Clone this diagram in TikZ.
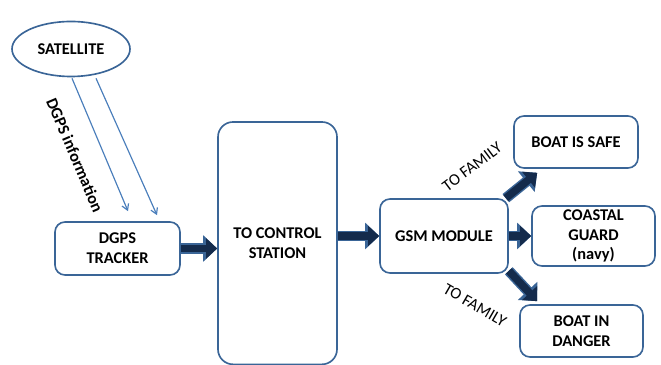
\documentclass[tikz,border=0pt]{standalone}
\usepackage{fontspec}
\setmainfont{Carlito}
\usepackage{xcolor}
\usetikzlibrary{shapes.geometric,arrows.meta,calc}

\definecolor{bdr}{HTML}{3A6597}
\definecolor{lnk}{HTML}{4A7EBB}
\definecolor{darkarr}{HTML}{142B4C}

\begin{document}
\begin{tikzpicture}[
  box/.style={draw=bdr, line width=1.4pt, rounded corners=0.3cm, align=center,
    inner sep=0pt, font=\fontsize{14}{17}\selectfont\bfseries},
  satnode/.style={ellipse, draw=bdr, line width=1.4pt, inner sep=0pt,
    font=\fontsize{14}{17}\selectfont\bfseries},
  thinarr/.style={draw=lnk, line width=1pt, -{Straight Barb[length=5pt,width=6pt]}},
  blk/.style={draw=darkarr, line width=6.5pt, -{Triangle[length=9.5pt,width=17pt]}},
  blkout/.style={draw=bdr, line width=9pt, -{Triangle[length=12pt,width=22pt]}},
  fam/.style={font=\fontsize{14}{17}\selectfont, inner sep=1pt}
]
\useasboundingbox (0,0) rectangle (19.83,10.95);

% Satellite and tracker
\node[satnode, minimum width=3.54cm, minimum height=1.65cm] (sat) at (2.13,9.48) {SATELLITE};
\node[box, minimum width=3.75cm, minimum height=1.59cm] (trk) at (3.525,3.495) {DGPS\\TRACKER};

\draw[thinarr] ($(sat.south)+(0.03,-0.03)$) -- ($(trk.north)+(0.315,0.3)$);
\draw[thinarr] ($(sat.south)+(0.75,-0.03)$) -- ($(trk.north)+(1.185,0.18)$);
\node[font=\fontsize{14}{17}\selectfont\bfseries, rotate=-67] (info) at (2.25,6.3) {DGPS information};

% Control station and GSM
\node[box, rounded corners=0.45cm, minimum width=3.57cm, minimum height=7.27cm] (ctl) at (8.325,3.655) {TO CONTROL\\STATION};
\node[box, minimum width=3.84cm, minimum height=2.22cm] (gsm) at (13.32,3.87) {GSM MODULE};

% Outputs
\node[box, minimum width=3.72cm, minimum height=1.56cm] (safe) at (17.28,6.69) {BOAT IS SAFE};
\node[box, minimum width=3.69cm, minimum height=1.8cm] (cg) at (17.805,3.87) {COASTAL\\GUARD\\(navy)};
\node[box, minimum width=3.69cm, minimum height=1.56cm] (dng) at (17.445,1.02) {BOAT IN\\DANGER};

% Block arrows
\coordinate (a1) at (trk.east);
\coordinate (b1) at (trk.east -| ctl.west);
\coordinate (a2) at (ctl.east |- gsm.west);
\coordinate (b2) at (gsm.west);
\coordinate (a3) at (gsm.east);
\coordinate (b3) at (cg.west);
\coordinate (a4) at ($(gsm.north east)+(-0.09,0)$);
\coordinate (b4) at ($(safe.south west)+(0.72,-0.12)$);
\coordinate (a5) at ($(gsm.south east)+(0,0.09)$);
\coordinate (b5) at ($(dng.north west)+(0.54,0.09)$);
\foreach \s/\t in {a1/b1, a2/b2, a3/b3, a4/b4, a5/b5} {
  \draw[blkout] (\s) -- (\t);
  \draw[blk] (\s) -- (\t);
}

\node[fam, rotate=37] (fam1) at (14.16,5.94) {TO FAMILY};
\node[fam, rotate=-30] (fam2) at (14.25,1.8) {TO FAMILY};

\end{tikzpicture}
\end{document}
